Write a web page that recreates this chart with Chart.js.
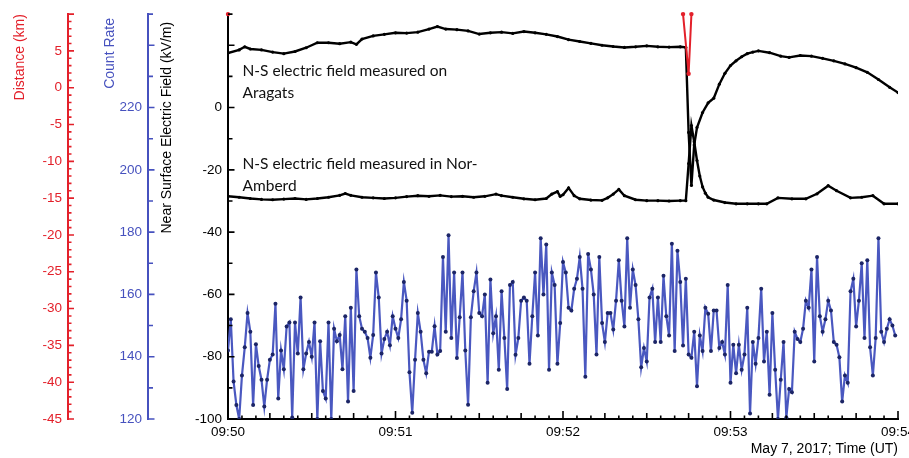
<!DOCTYPE html>
<html>
<head>
<meta charset="utf-8">
<script src="https://cdn.jsdelivr.net/npm/chart.js@4.4.1/dist/chart.umd.min.js"></script>
<style>
  html, body { margin: 0; padding: 0; background: #ffffff; overflow: hidden; width: 909px; height: 458px; }
  #wrap { width: 930px; height: 458px; }
</style>
</head>
<body>
<div id="wrap"><canvas id="c" width="930" height="458"></canvas></div>
<script>
// ---------------- data ----------------
// Count rate (one sample per second, starting 09:50:00)
const countRate = [
  142,152,132,124.5,120,134,143,154,148,124.5,
  144,137,132.6,124,132.6,139,140.7,157,126.6,142,
  136,149.7,151,120.5,151,141,159,136,141,144.7,
  140,151,120,145,129,126.6,151,120,149,145,
  147,136,153,125.6,155.7,129,168,153,149,148,
  146,139.7,147,167,159,141,145.7,148,143.7,153,
  149,146,152,164,158,135,122,139,154,148,
  139,134.7,141.6,141.6,149.8,140.7,141.8,172,148,179,
  146,167,139.6,152.7,167,142,124.6,152.7,161,167,
  154,153,160,131.6,164.8,147.5,153,135.8,161,146,
  129.6,163,164,140.6,146,158,159,158,137.7,153,
  167,146.8,178,160,176,135.8,167,163,137.7,150.8,
  170.4,167,155.7,154.8,161.8,165,172,161.8,133.6,173,
  168,160,140.7,172,150.8,144.7,154,154,148.7,158,
  171,158,149.7,178,155.7,168,163,152,136.6,142.8,
  138.5,159,161.8,144.7,159,144.7,166,153,146.8,176.3,
  141.8,174,164,143.6,165,140.7,139.7,148,130.5,146.8,
  141.8,155.7,153.8,141.8,154.8,154.8,142.8,144.7,140.7,163,
  131.6,143.8,134.7,143.8,135.8,140.7,155.7,121.8,144.7,137.7,
  146,161.8,138.5,148,127.8,154,135.8,120,132.6,144.7,
  120.5,129.6,128.6,148,145.7,144.7,149,158,155.7,168,
  138.5,172,153,148,152,158,154.8,144.7,143.8,139.8,
  125.6,134,131.6,161,165,149.7,158,170,146,171,
  143,134,146,178,148,144.7,149,152,150,146.8
];
const countSeconds = countRate.map((_, i) => i);

// N-S electric field on Aragats (kV/m), seconds after 09:50:00
const aragatsSeconds = [0,4,6,8,12,16,20,24,28,32,36,40,44,46,48,52,56,60,64,68,72,75,78,82,86,90,94,98,102,106,110,114,118,122,126,130,134,138,142,146,150,154,158,162,164,165,166,167,168,170,172,174,176,178,180,182,184,186,188,190,194,198,201,205,209,213,217,221,225,229,233,237,240];
const aragatsField   = [17.5,18.5,19.5,18.8,18.5,17.8,17.3,18,19.2,20.8,20.8,20.5,21,20.3,22,23,23.5,24,23.9,24.2,25.2,26,25.2,25,24.6,23.6,24,24.2,23.8,24.4,24,23.5,22.8,21.8,21.2,20.6,20,19.6,19.3,19.5,19.8,19.5,19.4,19.5,19.3,-8,-25,-12,-6.4,-1.6,1.5,3,7.5,11,13.5,15,16.3,17.3,17.8,18.2,17.6,16.5,16.1,16.7,16.5,15.8,15,14,12.8,11.3,9,6.5,4.8];

// N-S electric field in Nor-Amberd (kV/m)
const norSeconds = [0,4,8,12,16,20,24,28,32,36,40,42,44,48,52,56,60,64,68,72,76,80,84,88,92,96,98,102,106,110,114,116,118,119,120,122,124,126,130,134,136,138,140,142,146,150,154,158,162,164,165,166,167,168,169,170,171,172,174,178,182,186,190,193,197,202,207,211,215,218,223,227,231,235,240];
const norField   = [-28.5,-28.8,-29.2,-29.5,-29.6,-29.4,-29.2,-29.5,-29.2,-28.8,-28.2,-27.6,-28.2,-28.8,-29,-29.2,-29,-28.6,-28.3,-28.5,-28.2,-28.6,-28.5,-28.8,-28.5,-27.8,-28.3,-28.8,-29.3,-29.6,-29.2,-27.8,-27,-28.5,-28,-25.8,-28.3,-29.3,-29.7,-29.8,-29,-27.8,-26.3,-28.3,-29.6,-29.9,-29.9,-30,-29.9,-29.9,-18,-5.8,-11,-17,-22,-25.5,-27.5,-28.8,-29.7,-30.5,-30.9,-30.9,-30.9,-30.9,-29,-29.3,-29.3,-27.7,-25.1,-26.7,-29,-28.8,-28.3,-30.9,-30.9];

// Lightning distance (km)
const distanceSeconds = [0,1,163,165,166];
const distanceKm      = [10,null,10,1.9,10];

// Axis tick labels
const minuteLabels = ['09:50','09:51','09:52','09:53','09:54'];

// ---------------- chart ----------------
const toXY = (xs, ys) => xs.map((x, i) => ({ x: x, y: ys[i] }));

const RED = '#e3202a';
const BLUE = '#4651be';
const BLUE_LINE = '#4a58c0';
const NAVY = '#1c2566';
const FONT = "'Liberation Sans', Arial, sans-serif";

Chart.defaults.font.family = FONT;
Chart.defaults.font.size = 13.5;
Chart.defaults.color = '#000';

const tickLens = {
  yDist: v => (v % 5 === 0 ? 6 : 3.5),
  yCount: v => (v % 20 === 0 ? 6.5 : 5),
  yField: v => (v % 20 === 0 ? 6.5 : 4.5),
  x: v => (v % 60 === 0 ? 8 : (v % 15 === 0 ? 6 : 3.5))
};
const tickColors = { yDist: RED, yCount: BLUE, yField: '#000', x: '#000' };

const inwardTicks = {
  id: 'inwardTicks',
  afterDraw(chart) {
    const ctx = chart.ctx;
    ctx.save();
    Object.keys(tickLens).forEach(id => {
      const s = chart.scales[id];
      ctx.beginPath();
      ctx.strokeStyle = tickColors[id];
      ctx.lineWidth = 1.6;
      s.ticks.forEach(tk => {
        const p = s.getPixelForValue(tk.value);
        const len = tickLens[id](tk.value);
        if (id === 'x') {
          ctx.moveTo(p, s.top); ctx.lineTo(p, s.top - len);
        } else {
          ctx.moveTo(s.right, p); ctx.lineTo(s.right + len, p);
        }
      });
      ctx.stroke();
    });
    ctx.restore();
  }
};

const annotations = {
  id: 'annotations',
  afterDatasetsDraw(chart, args, opts) {
    const ctx = chart.ctx, xs = chart.scales.x, ys = chart.scales.yField;
    ctx.save();
    ctx.font = opts.font;
    ctx.fillStyle = '#111';
    ctx.textBaseline = 'alphabetic';
    ctx.textAlign = 'left';
    opts.items.forEach(it => {
      ctx.fillText(it.text, xs.getPixelForValue(it.t), ys.getPixelForValue(it.v));
    });
    ctx.restore();
  }
};

const fixWidth = w => (scale) => { scale.width = w; };
const titleFont = { size: 14 };

new Chart(document.getElementById('c'), {
  type: 'line',
  data: {
    datasets: [
      {
        label: 'Distance',
        data: toXY(distanceSeconds, distanceKm),
        yAxisID: 'yDist',
        borderColor: RED, backgroundColor: RED,
        borderWidth: 2, pointRadius: 2.2, pointBorderWidth: 0,
        spanGaps: false, clip: false, order: 0
      },
      {
        label: 'Aragats',
        data: toXY(aragatsSeconds, aragatsField),
        yAxisID: 'yField',
        borderColor: '#000', backgroundColor: '#000',
        borderWidth: 2.4, pointRadius: 1.6, pointBorderWidth: 0, order: 1
      },
      {
        label: 'Nor-Amberd',
        data: toXY(norSeconds, norField),
        yAxisID: 'yField',
        borderColor: '#000', backgroundColor: '#000',
        borderWidth: 2.4, pointRadius: 1.6, pointBorderWidth: 0, order: 2
      },
      {
        label: 'Count Rate',
        data: toXY(countSeconds, countRate),
        yAxisID: 'yCount',
        borderColor: BLUE_LINE, backgroundColor: NAVY,
        borderWidth: 2.2, pointRadius: 2, pointBorderWidth: 0, order: 3
      }
    ]
  },
  options: {
    responsive: false,
    animation: false,
    events: [],
    layout: { padding: { left: 0, right: 32, top: 13, bottom: 0 } },
    plugins: {
      legend: { display: false },
      tooltip: { enabled: false },
      annotations: {
        font: "15.5px Lato, 'Open Sans', sans-serif",
        items: [
          { text: 'N-S electric field measured on', t: 5.2, v: 10 },
          { text: 'Aragats', t: 5.2, v: 3.1 },
          { text: 'N-S electric field measured in Nor-', t: 5.2, v: -19.8 },
          { text: 'Amberd', t: 5.2, v: -26.7 }
        ]
      }
    },
    scales: {
      x: {
        type: 'linear', position: 'bottom',
        min: 0, max: 240,
        grid: { display: false, drawTicks: false },
        border: { display: true, color: '#000', width: 2 },
        ticks: {
          stepSize: 5, autoSkip: false, maxRotation: 0, padding: 5,
          callback: v => (v % 60 === 0 ? minuteLabels[v / 60] : '')
        },
        title: { display: true, text: 'May 7, 2017; Time (UT)', align: 'end', font: titleFont, padding: { top: 0, bottom: 0 } },
        afterFit: s => { s.height = 39; }
      },
      yField: {
        type: 'linear', position: 'left', weight: 1,
        min: -100, max: 30,
        grid: { display: false, drawTicks: false },
        border: { display: true, color: '#000', width: 2 },
        ticks: {
          stepSize: 10, autoSkip: false, padding: 6, color: '#000',
          callback: v => (v <= 0 && v % 20 === 0 ? String(v) : '')
        },
        title: { display: true, text: 'Near Surface Electric Field (kV/m)  ', align: 'end', color: '#000', font: titleFont, padding: { top: 11, bottom: 0 } },
        afterFit: fixWidth(80)
      },
      yCount: {
        type: 'linear', position: 'left', weight: 2,
        min: 120, max: 250,
        grid: { display: false, drawTicks: false },
        border: { display: true, color: BLUE, width: 2 },
        ticks: {
          stepSize: 10, autoSkip: false, padding: 6, color: BLUE,
          callback: v => (v <= 220 && v % 20 === 0 ? String(v) : '')
        },
        title: { display: true, text: 'Count Rate ', align: 'end', color: BLUE, font: titleFont, padding: { top: 34, bottom: 0 } },
        afterFit: fixWidth(80)
      },
      yDist: {
        type: 'linear', position: 'left', weight: 3,
        min: -45, max: 10,
        grid: { display: false, drawTicks: false },
        border: { display: true, color: RED, width: 2 },
        ticks: {
          stepSize: 1, autoSkip: false, padding: 6, color: RED,
          callback: v => (v <= 5 && v % 5 === 0 ? String(v) : '')
        },
        title: { display: true, text: 'Distance (km)', align: 'end', color: RED, font: titleFont, padding: { top: 12, bottom: 0 } },
        afterFit: fixWidth(68)
      }
    }
  },
  plugins: [inwardTicks, annotations]
});
</script>
</body>
</html>
